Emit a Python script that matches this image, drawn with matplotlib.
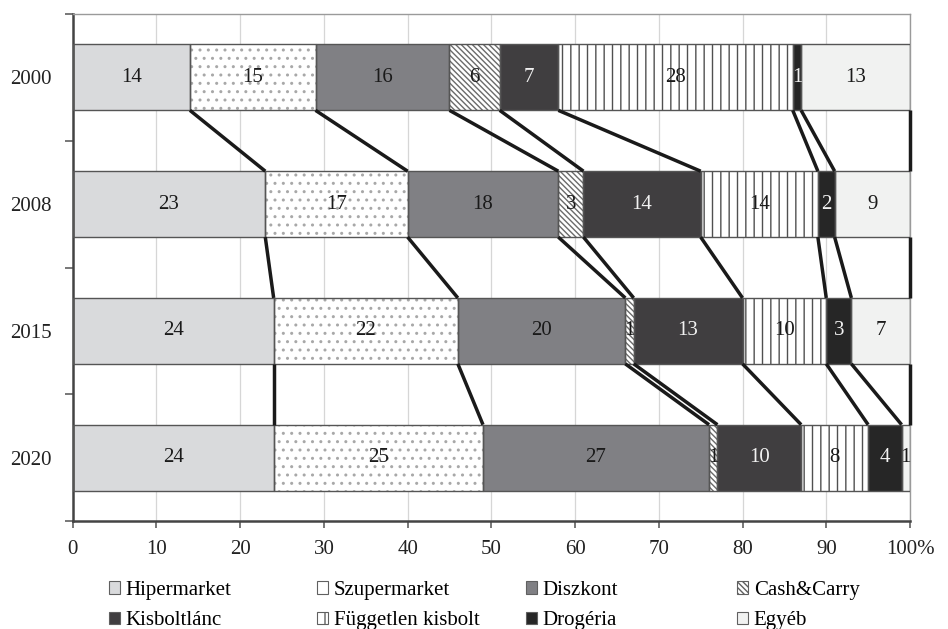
import numpy as np
import matplotlib
matplotlib.use("Agg")
import matplotlib.pyplot as plt
from matplotlib.patches import Patch

# Retail market share by store format (%), one row per year
years = ["2000", "2008", "2015", "2020"]
segments = ["Hipermarket", "Szupermarket", "Diszkont", "Cash&Carry",
            "Kisboltlánc", "Független kisbolt", "Drogéria", "Egyéb"]
hipermarket = [14, 23, 24, 24]
szupermarket = [15, 17, 22, 25]
diszkont = [16, 18, 20, 27]
cash_carry = [6, 3, 1, 1]
kisboltlanc = [7, 14, 13, 10]
fuggetlen_kisbolt = [28, 14, 10, 8]
drogeria = [1, 2, 3, 4]
egyeb = [13, 9, 7, 1]
x_ticks = [0, 10, 20, 30, 40, 50, 60, 70, 80, 90, 100]
x_tick_labels = ["0", "10", "20", "30", "40", "50", "60", "70", "80", "90", "100%"]

series = [hipermarket, szupermarket, diszkont, cash_carry,
          kisboltlanc, fuggetlen_kisbolt, drogeria, egyeb]

# face colour, hatch pattern, hatch colour, label colour, legend hatch
styles = [
    ("#d9dadc", None, "#d9dadc", "#1a1a1a", None),
    ("#ffffff", "..", "#a8a8a8", "#1a1a1a", None),
    ("#808084", None, "#808084", "#1a1a1a", None),
    ("#ffffff", "\\\\\\\\\\\\", "#6a6a6a", "#1a1a1a", "\\\\\\\\\\\\"),
    ("#403e40", None, "#403e40", "#f2f2f2", None),
    ("#ffffff", "||", "#505050", "#1a1a1a", "|"),
    ("#262626", None, "#262626", "#f2f2f2", None),
    ("#f1f2f1", None, "#f1f2f1", "#1a1a1a", None),
]

plt.rcParams["font.family"] = ["Liberation Serif", "DejaVu Serif"]
plt.rcParams["hatch.linewidth"] = 1.0
FS = 15

fig = plt.figure(figsize=(9.48, 6.29), dpi=100)
ax = fig.add_axes([0.0767, 0.1717, 0.8832, 0.806])

ypos = np.arange(len(years))
bar_h = 0.52
values = np.array(series, dtype=float)
cum = np.cumsum(values, axis=0)
lefts = cum - values

for k, (face, hatch, hcol, tcol, _) in enumerate(styles):
    ax.barh(ypos, values[k], left=lefts[k], height=bar_h, color=face,
            hatch=hatch, edgecolor=hcol, linewidth=0, zorder=2)
    outline = ax.barh(ypos, values[k], left=lefts[k], height=bar_h,
                      fill=False, edgecolor="#555555", linewidth=1.0, zorder=3)
    ax.bar_label(outline, labels=[f"{v:g}" for v in values[k]],
                 label_type="center", color=tcol, fontsize=FS, zorder=5)

# connectors between the segment boundaries of consecutive years
for k in range(len(segments)):
    for i in range(len(years) - 1):
        ax.plot([cum[k, i], cum[k, i + 1]],
                [ypos[i] + bar_h / 2, ypos[i + 1] - bar_h / 2],
                color="#1a1a1a", lw=2.5, zorder=4, solid_capstyle="butt",
                clip_on=False)

ax.set_xlim(0, 100)
ax.set_ylim(len(years) - 0.5, -0.5)
ax.set_xticks(x_ticks)
ax.set_xticklabels(x_tick_labels, fontsize=FS, color="#222222")
ax.set_yticks(ypos)
ax.set_yticklabels(years, fontsize=FS, color="#222222")
ax.set_yticks(np.arange(-0.5, len(years), 1.0), minor=True)
ax.tick_params(axis="y", which="major", length=0, pad=15)
ax.tick_params(axis="y", which="minor", length=6, width=1.2, color="#606060")
ax.tick_params(axis="x", which="major", length=5, width=1.2, color="#606060", pad=9)

ax.grid(axis="x", color="#d6d6d6", lw=0.9, zorder=0)
ax.set_axisbelow(True)
for side in ("left", "bottom"):
    ax.spines[side].set_color("#444444")
    ax.spines[side].set_linewidth(1.8)
for side in ("top", "right"):
    ax.spines[side].set_color("#9a9a9a")
    ax.spines[side].set_linewidth(1.0)

# legend: four columns, two rows
handles = [Patch(facecolor=f, edgecolor="#606060", hatch=lh, linewidth=0.8)
           for f, _, _, _, lh in styles]
col_x = [109, 317, 526, 737]
for c in range(4):
    idx = [c, c + 4]
    fig.legend([handles[i] for i in idx], [segments[i] for i in idx],
               loc="upper left", bbox_to_anchor=(col_x[c] / 948, 1 - 581 / 629),
               frameon=False, fontsize=FS, handlelength=0.55, handleheight=0.55,
               handletextpad=0.25, labelspacing=0.55, borderpad=0, borderaxespad=0)

fig.savefig("out.png", dpi=100)
